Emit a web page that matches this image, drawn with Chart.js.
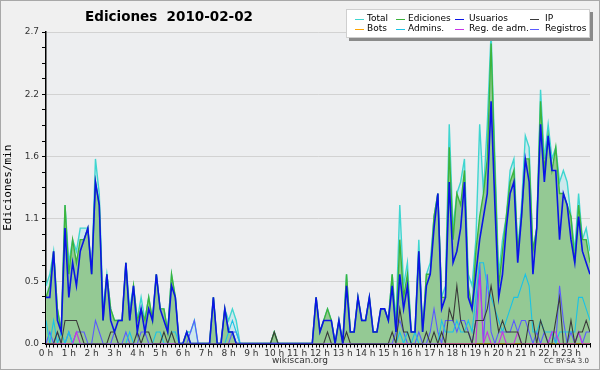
<!DOCTYPE html>
<html><head><meta charset="utf-8">
<script src="https://cdn.jsdelivr.net/npm/chart.js@4.4.0/dist/chart.umd.min.js"></script>
<style>
html,body{margin:0;padding:0;background:#f0f0f0;}
canvas{display:block;}
</style></head><body>
<canvas id="c" width="600" height="370"></canvas>
<script>
// ---- data (edits per minute, one value per 10 minutes, 24 rows of 6) ----
const hourLabels = ['0 h','1 h','2 h','3 h','4 h','5 h','6 h','7 h','8 h','9 h','10 h','11 h',
  '12 h','13 h','14 h','15 h','16 h','17 h','18 h','19 h','20 h','21 h','22 h','23 h'];
const yTickLabels = ['0.0','0.5','1.1','1.6','2.2','2.7'];
const seriesNames = ['Total','Ediciones','Usuarios','IP','Bots','Admins.','Reg. de adm.','Registros'];

const total = [
 0.5,0.6,0.8,0.3,0.1,1.2, 0.7,0.9,0.8,1.0,1.0,1.0, 0.6,1.6,1.3,0.3,0.6,0.3, 0.2,0.2,0.2,0.7,0.3,0.5,
 0.2,0.4,0.2,0.4,0.2,0.6, 0.3,0.3,0.1,0.6,0.4,0, 0,0.1,0.1,0.2,0,0, 0,0,0.4,0,0,0.3,
 0.2,0.3,0.2,0,0,0, 0,0,0,0,0,0, 0.1,0,0,0,0,0, 0,0,0,0,0,0.4,
 0.1,0.2,0.3,0.2,0,0.2, 0,0.6,0.1,0.1,0.4,0.2, 0.2,0.4,0.1,0.1,0.3,0.3, 0.2,0.6,0.2,1.2,0.5,0.7,
 0.1,0.1,0.9,0.1,0.6,0.7, 1.1,1.3,0.4,0.5,1.9,1.0, 1.3,1.4,1.6,0.6,0.5,0.9, 1.9,1.3,1.9,2.7,1.6,0.6,
 0.9,1.1,1.5,1.6,0.8,1.2, 1.8,1.7,0.8,1.0,2.2,1.6, 1.9,1.6,1.7,1.4,1.5,1.4, 1.1,0.8,1.3,0.9,1.0,0.8];
const ediciones = [
 0.4,0.5,0.8,0.3,0.1,1.2, 0.6,0.9,0.7,0.9,0.9,1.0, 0.6,1.4,1.2,0.2,0.6,0.3, 0.2,0.2,0.2,0.7,0.2,0.5,
 0.2,0.3,0.2,0.4,0.2,0.6, 0.3,0.3,0.1,0.6,0.4,0, 0,0.1,0,0,0,0, 0,0,0.4,0,0,0.3,
 0.1,0.1,0,0,0,0, 0,0,0,0,0,0, 0.1,0,0,0,0,0, 0,0,0,0,0,0.4,
 0.1,0.2,0.3,0.2,0,0.2, 0,0.6,0.1,0.1,0.4,0.2, 0.2,0.4,0.1,0.1,0.3,0.3, 0.2,0.6,0.1,0.9,0.4,0.6,
 0.1,0.1,0.8,0.1,0.6,0.6, 1.1,1.3,0.4,0.4,1.7,0.9, 1.3,1.2,1.5,0.5,0.3,0.8, 1.1,1.3,1.6,2.6,1.5,0.5,
 0.8,1.1,1.4,1.5,0.8,1.1, 1.6,1.6,0.8,1.0,2.1,1.5, 1.8,1.5,1.7,1.3,1.3,1.2, 1.1,0.7,1.2,0.9,0.9,0.7];
const usuarios = [
 0.4,0.4,0.8,0.2,0.1,1.0, 0.4,0.7,0.5,0.8,0.9,1.0, 0.6,1.4,1.2,0.2,0.6,0.2, 0.1,0.2,0.2,0.7,0.2,0.5,
 0.1,0.3,0.1,0.3,0.2,0.6, 0.3,0.2,0.1,0.5,0.4,0, 0,0.1,0,0,0,0, 0,0,0.4,0,0,0.3,
 0.1,0.1,0,0,0,0, 0,0,0,0,0,0, 0,0,0,0,0,0, 0,0,0,0,0,0.4,
 0.1,0.2,0.2,0.2,0,0.2, 0,0.5,0.1,0.1,0.4,0.2, 0.2,0.4,0.1,0.1,0.3,0.3, 0.2,0.5,0.1,0.6,0.3,0.5,
 0.1,0.1,0.8,0.1,0.5,0.6, 1.0,1.3,0.3,0.4,1.4,0.7, 0.8,1.0,1.4,0.4,0.3,0.6, 0.9,1.1,1.3,2.1,1.2,0.4,
 0.6,1.0,1.3,1.4,0.7,1.1, 1.6,1.4,0.6,1.0,1.9,1.4, 1.8,1.5,1.5,0.9,1.3,1.2, 0.9,0.7,1.1,0.8,0.7,0.6];
const ip = [
 0,0,0,0.1,0,0.2, 0.2,0.2,0.2,0.1,0,0, 0,0,0,0,0,0.1, 0.1,0,0,0,0,0,
 0.1,0,0.1,0.1,0,0, 0,0.1,0,0.1,0,0, 0,0,0,0,0,0, 0,0,0,0,0,0,
 0,0,0,0,0,0, 0,0,0,0,0,0, 0.1,0,0,0,0,0, 0,0,0,0,0,0,
 0,0,0.1,0,0,0, 0,0.1,0,0,0,0, 0,0,0,0,0,0, 0,0.1,0,0.3,0.1,0.1,
 0,0,0,0,0.1,0, 0.1,0,0.1,0,0.3,0.2, 0.5,0.2,0.1,0.1,0,0.2, 0.2,0.2,0.3,0.5,0.3,0.1,
 0.2,0.1,0.1,0.1,0.1,0, 0,0.2,0.2,0,0.2,0.1, 0,0,0.2,0.4,0,0, 0.2,0,0.1,0.1,0.2,0.1];
const bots = [
 0,0,0,0,0,0, 0,0,0,0,0,0, 0,0,0,0,0,0, 0,0,0,0,0,0,
 0,0,0,0,0,0, 0,0,0,0,0,0, 0,0,0,0,0,0, 0,0,0,0,0,0,
 0,0,0,0,0,0, 0,0,0,0,0,0, 0,0,0,0,0,0, 0,0,0,0,0,0,
 0,0,0,0,0,0, 0,0,0,0,0,0, 0,0,0,0,0,0, 0,0,0,0,0,0,
 0,0,0,0,0,0, 0,0,0,0,0,0, 0,0,0,0,0,0, 0,0,0,0,0,0,
 0,0,0,0,0,0, 0,0,0,0,0,0, 0,0,0,0,0,0, 0,0,0,0,0,0];
const admins = [
 0.2,0,0.2,0,0.1,0, 0.1,0,0,0,0,0, 0,0,0,0,0,0, 0,0,0,0,0.1,0,
 0,0,0,0,0,0.1, 0.1,0,0,0.1,0.1,0, 0,0,0,0,0,0, 0,0,0,0,0,0,
 0.1,0.2,0.1,0,0,0, 0,0,0,0,0,0, 0,0,0,0,0,0, 0,0,0,0,0,0,
 0,0,0,0,0,0, 0,0,0,0,0,0, 0,0,0,0,0,0, 0,0,0,0.1,0,0.1,
 0,0.1,0,0,0,0, 0,0,0.2,0.1,0.1,0.1, 0.2,0.1,0.1,0.2,0.1,0.4, 0.7,0.7,0.5,0.4,0.3,0.2,
 0.1,0.2,0.3,0.4,0.4,0.5, 0.6,0.5,0.1,0.1,0.2,0.1, 0.1,0.1,0,0.1,0.1,0.1, 0.1,0.1,0.4,0.4,0.3,0.2];
const regAdm = [
 0,0,0,0,0,0, 0,0,0.1,0,0,0, 0,0,0,0,0,0, 0,0,0,0,0,0,
 0,0,0,0,0,0, 0,0,0,0,0,0, 0,0,0,0,0,0, 0,0,0,0,0,0,
 0,0,0,0,0,0, 0,0,0,0,0,0, 0,0,0,0,0,0, 0,0,0,0,0,0,
 0,0,0,0,0,0, 0,0,0,0,0,0, 0,0,0,0,0,0, 0,0,0,0,0,0,
 0,0,0,0,0,0, 0,0,0,0,0,0, 0,0,0,0,0,0, 0.6,0,0.1,0,0,0,
 0.1,0,0,0,0.1,0, 0,0,0,0,0,0, 0,0.1,0.1,0,0,0, 0,0,0.1,0,0,0];
const registros = [
 0,0.1,0,0.1,0,0, 0.1,0,0.1,0.1,0.1,0, 0,0.2,0.1,0,0,0, 0.1,0,0,0.1,0,0,
 0,0.1,0.1,0,0,0, 0,0,0,0,0,0, 0,0,0.1,0.2,0,0, 0,0,0,0,0,0,
 0,0.1,0.1,0,0,0, 0,0,0,0,0,0, 0,0,0,0,0,0, 0,0,0,0,0,0,
 0,0,0,0,0,0, 0,0,0,0,0,0, 0,0,0,0,0,0, 0,0,0.1,0.2,0.1,0,
 0,0,0.1,0,0,0.1, 0.3,0.1,0,0.2,0.2,0.2, 0.1,0.2,0.2,0.1,0,0.2, 0.7,0,0.6,0.1,0,0.1,
 0.1,0.1,0.1,0.2,0.1,0.2, 0.2,0.1,0,0.1,0,0.1, 0,0.1,0,0.5,0.2,0, 0.1,0,0.1,0,0.1,0.1];

const slots = total.map((_, i) => i);

const colors = {
  total: '#3fd6d0', totalFill: '#cde8ec',
  ed: '#3cb43c', edFill: '#94c994',
  us: '#0a14e6', ip: '#3a3a3a', bots: '#ffa500',
  adm: '#19c3e6', regAdm: '#c832e6', reg: '#5a5aff'
};

function ds(label, data, color, order, width, fill) {
  return { label, data, borderColor: color, borderWidth: width, order,
    pointRadius: 0, tension: 0, fill: fill ? 'origin' : false,
    backgroundColor: fill || 'transparent' };
}

const bgPlugin = {
  id: 'bg',
  beforeDraw(chart) {
    const { ctx, chartArea: a } = chart;
    ctx.save();
    ctx.fillStyle = '#f0f0f0';
    ctx.fillRect(0, 0, chart.width, chart.height);
    ctx.strokeStyle = '#a8a8a8';
    ctx.lineWidth = 1;
    ctx.strokeRect(0.5, 0.5, chart.width - 1, chart.height - 1);
    ctx.fillStyle = '#edeef0';
    ctx.fillRect(a.left, a.top, a.right - a.left, a.bottom - a.top);
    ctx.restore();
  },
  afterDraw(chart) {
    const ctx = chart.ctx;
    ctx.save();
    // title
    ctx.fillStyle = '#000';
    ctx.font = 'bold 13.5px "DejaVu Sans"';
    ctx.textBaseline = 'middle';
    ctx.textAlign = 'left';
    ctx.fillText('Ediciones  2010-02-02', 85, 17);
    // legend box with shadow
    ctx.fillStyle = '#8a8a8a';
    ctx.fillRect(349, 12, 244, 29);
    ctx.fillStyle = '#ffffff';
    ctx.fillRect(346, 9, 244, 29);
    ctx.strokeStyle = '#cfcfcf';
    ctx.strokeRect(346.5, 9.5, 243, 28);
    const swX = [355, 396, 455, 530];
    const txX = [367, 408, 469, 545];
    const rowY = [19, 29];
    ctx.font = '9px "DejaVu Sans"';
    chart.data.datasets.forEach((d, i) => {
      const col = i % 4, row = Math.floor(i / 4);
      const y = rowY[row];
      ctx.strokeStyle = d.borderColor;
      ctx.lineWidth = 1;
      ctx.beginPath();
      ctx.moveTo(swX[col], y + 0.5);
      ctx.lineTo(swX[col] + 9, y + 0.5);
      ctx.stroke();
      ctx.fillStyle = '#000';
      ctx.fillText(d.label, txX[col], y);
    });
    // footer
    ctx.fillStyle = '#333';
    ctx.font = '9px "DejaVu Sans"';
    ctx.textAlign = 'center';
    ctx.fillText('wikiscan.org', 300, 361);
    ctx.font = '7px "DejaVu Sans"';
    ctx.textAlign = 'right';
    ctx.fillText('CC BY-SA 3.0', 589, 361);
    ctx.restore();
  }
};

new Chart(document.getElementById('c'), {
  type: 'line',
  data: {
    labels: slots,
    datasets: [
      ds(seriesNames[0], total, colors.total, 9, 1.4, colors.totalFill),
      ds(seriesNames[1], ediciones, colors.ed, 8, 1.4, colors.edFill),
      ds(seriesNames[2], usuarios, colors.us, 1, 1.6, null),
      ds(seriesNames[3], ip, colors.ip, 3, 1.1, null),
      ds(seriesNames[4], bots, colors.bots, 7, 1.1, null),
      ds(seriesNames[5], admins, colors.adm, 5, 1.1, null),
      ds(seriesNames[6], regAdm, colors.regAdm, 4, 1.1, null),
      ds(seriesNames[7], registros, colors.reg, 6, 1.1, null)
    ]
  },
  options: {
    responsive: false,
    devicePixelRatio: 1,
    animation: false,
    events: [],
    layout: { padding: { top: 32, right: 10, left: 0, bottom: 0 } },
    plugins: { legend: { display: false }, title: { display: false }, tooltip: { enabled: false } },
    scales: {
      x: {
        type: 'linear', min: 0, max: 143,
        afterBuildTicks(scale) { scale.ticks = slots.map(v => ({ value: v })); },
        afterFit(scale) { scale.height = 26.5; },
        ticks: {
          autoSkip: false, maxRotation: 0, minRotation: 0, padding: 1,
          color: '#333', font: { family: 'DejaVu Sans', size: 9 },
          callback: (v) => (v % 6 === 0 ? hourLabels[v / 6] : '')
        },
        grid: { drawOnChartArea: false, drawTicks: true, tickLength: 4, tickColor: '#000' },
        border: { color: '#000', width: 2 }
      },
      y: {
        min: 0, max: 2.7,
        afterBuildTicks(scale) {
          const t = [];
          for (let k = 0; k <= 20; k++) t.push({ value: k * 0.135 });
          scale.ticks = t;
        },
        afterFit(scale) { scale.width = 46; },
        ticks: {
          autoSkip: false, padding: 3, color: '#333',
          font: { family: 'DejaVu Sans', size: 9 },
          callback: (v, i) => (i % 4 === 0 ? yTickLabels[i / 4] : '')
        },
        grid: {
          color: (c) => (c.index % 4 === 0 && c.index > 0 ? '#d2d2d2' : 'rgba(0,0,0,0)'),
          tickColor: '#000', tickLength: 4, lineWidth: 1
        },
        border: { color: '#000', width: 1.5 },
        title: {
          display: true, text: 'Ediciones/min', color: '#000',
          font: { family: 'DejaVu Sans Mono', size: 11 }, padding: { top: 2, bottom: 0 }
        }
      }
    }
  },
  plugins: [bgPlugin]
});
</script>
</body></html>
